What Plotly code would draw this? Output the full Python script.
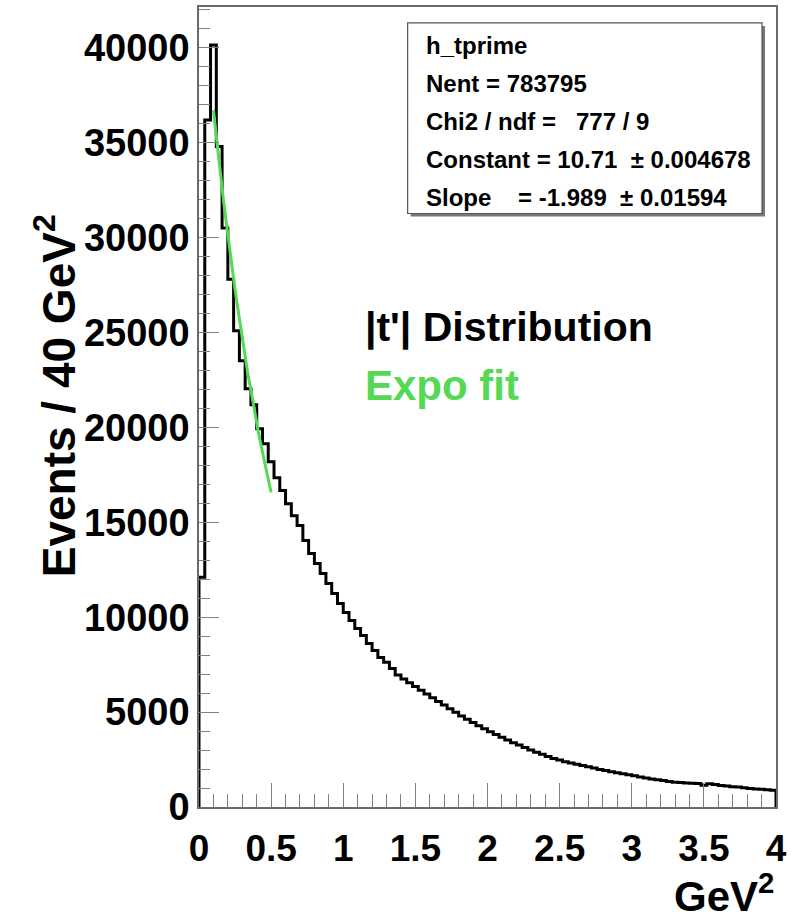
import numpy as np
import plotly.graph_objects as go

# ---------------- data ----------------
x_lo, x_hi, n_bins = 0.0, 4.0, 100
counts = [
    12100, 36200, 40140, 34800, 30500, 27800, 25090, 23510, 22040, 21190,
    19930, 19140, 18190, 17350, 16670, 15980, 15350, 14830, 14040, 13350,
    12830, 12300, 11770, 11250, 10720, 10250, 9830, 9400, 9040, 8620,
    8250, 7880, 7620, 7300, 6950, 6750, 6550, 6350, 6150, 5950,
    5750, 5560, 5370, 5180, 4990, 4800, 4620, 4450, 4280, 4120,
    3970, 3820, 3670, 3530, 3390, 3260, 3130, 3000, 2880, 2780,
    2660, 2560, 2470, 2390, 2320, 2250, 2190, 2120, 2050, 1980,
    1920, 1860, 1800, 1750, 1700, 1640, 1580, 1530, 1480, 1430,
    1390, 1350, 1310, 1290, 1270, 1250, 1240, 1150, 1230, 1180,
    1130, 1100, 1070, 1050, 1010, 980, 950, 930, 910, 880,
]
fit_const, fit_slope = 10.71, -1.989
fit_lo, fit_hi = 0.1, 0.5
stats_lines = [
    "h_tprime",
    "Nent = 783795",
    "Chi2 / ndf = \u00a0\u00a0777 / 9",
    "Constant = 10.71 \u00a0\u00b1 0.004678",
    "Slope \u00a0\u00a0\u00a0= -1.989 \u00a0\u00b1 0.01594",
]
x_ticks = [0, 0.5, 1, 1.5, 2, 2.5, 3, 3.5, 4]
x_tick_text = ["0", "0.5", "1", "1.5", "2", "2.5", "3", "3.5", "4"]
y_ticks = [0, 5000, 10000, 15000, 20000, 25000, 30000, 35000, 40000]
y_tick_text = ["0", "5000", "10000", "15000", "20000", "25000", "30000", "35000", "40000"]
y_max = 1.05 * max(counts)

# ---------------- geometry ----------------
W, H = 792, 922
ML, MR, MT, MB = 199, 15, 5, 115
PW, PH = W - ML - MR, H - MT - MB


def px_x(px):
    return (px - ML) / PW


def px_y(py):
    return (H - MB - py) / PH


edges = np.linspace(x_lo, x_hi, n_bins + 1)
hx = [x_lo] + list(edges[:-1]) + [x_hi, x_hi]
hy = [0] + counts + [counts[-1], 0]

fx = np.linspace(fit_lo, fit_hi, 60)
fy = np.exp(fit_const + fit_slope * fx)

GREEN = "#55d955"
FRAME = "#6a6a6a"
TICK = "#808080"
BOLD = "Liberation Sans, Arial, sans-serif"

fig = go.Figure()
fig.add_trace(go.Scatter(x=hx, y=hy, mode="lines", line=dict(color="black", width=3, shape="hv"),
                         hoverinfo="skip", showlegend=False))
fig.add_trace(go.Scatter(x=fx, y=fy, mode="lines", line=dict(color=GREEN, width=3),
                         hoverinfo="skip", showlegend=False))

fig.update_layout(
    width=W, height=H,
    margin=dict(l=ML, r=MR, t=MT, b=MB, pad=0),
    paper_bgcolor="white", plot_bgcolor="white",
    showlegend=False,
    xaxis=dict(range=[x_lo, x_hi], tickvals=x_ticks, ticktext=x_tick_text,
               ticks="inside", ticklen=24, tickcolor=TICK, tickwidth=1.2,
               minor=dict(dtick=0.1, ticks="inside", ticklen=13, tickcolor=TICK, tickwidth=1.2),
               showgrid=False, zeroline=False, showline=True, linecolor=FRAME, linewidth=1.5,
               mirror=True,
               tickfont=dict(family=BOLD, size=37, color="black", weight="bold"),
               ticklabelstandoff=8),
    yaxis=dict(range=[0, y_max], tickvals=y_ticks, ticktext=y_tick_text,
               ticks="inside", ticklen=20, tickcolor=TICK, tickwidth=1.2,
               minor=dict(dtick=1000, ticks="inside", ticklen=11, tickcolor=TICK, tickwidth=1.2),
               showgrid=False, zeroline=False, showline=True, linecolor=FRAME, linewidth=1.5,
               mirror=True,
               tickfont=dict(family=BOLD, size=38, color="black", weight="bold"),
               ticklabelstandoff=0),
)

annotations = []
# axis titles
annotations.append(dict(text="Events / 40 GeV<sup>2</sup>", textangle=-90,
                        x=px_x(55), y=px_y(395), xref="paper", yref="paper",
                        xanchor="center", yanchor="middle", showarrow=False,
                        font=dict(family=BOLD, size=46, color="black", weight="bold")))
annotations.append(dict(text="GeV<sup>2</sup>",
                        x=px_x(777), y=px_y(893), xref="paper", yref="paper",
                        xanchor="right", yanchor="middle", showarrow=False,
                        font=dict(family=BOLD, size=42, color="black", weight="bold")))
# labels in plot
annotations.append(dict(text="|t'| Distribution", x=px_x(363), y=px_y(326), xref="paper", yref="paper",
                        xanchor="left", yanchor="middle", showarrow=False,
                        font=dict(family=BOLD, size=41, color="black", weight="bold")))
annotations.append(dict(text="Expo fit", x=px_x(363), y=px_y(384), xref="paper", yref="paper",
                        xanchor="left", yanchor="middle", showarrow=False,
                        font=dict(family=BOLD, size=42, color=GREEN, weight="bold")))
# stats box text
line_y = [44, 82, 120, 158, 196]
for txt, ly in zip(stats_lines, line_y):
    annotations.append(dict(text=txt, x=px_x(424), y=px_y(ly), xref="paper", yref="paper",
                            xanchor="left", yanchor="middle", showarrow=False,
                            font=dict(family=BOLD, size=24, color="black", weight="bold")))
fig.update_layout(annotations=annotations)

# stats box with shadow
bx0, bx1, by0, by1 = 408, 763, 21, 212
fig.add_shape(type="rect", xref="paper", yref="paper",
              x0=px_x(bx0 + 3), x1=px_x(bx1 + 3), y0=px_y(by1 + 3), y1=px_y(by0 + 3),
              line=dict(width=0), fillcolor="#777777", layer="above")
fig.add_shape(type="rect", xref="paper", yref="paper",
              x0=px_x(bx0), x1=px_x(bx1), y0=px_y(by1), y1=px_y(by0),
              line=dict(color="#555555", width=1.2), fillcolor="white", layer="above")

fig.write_html("out.html")
